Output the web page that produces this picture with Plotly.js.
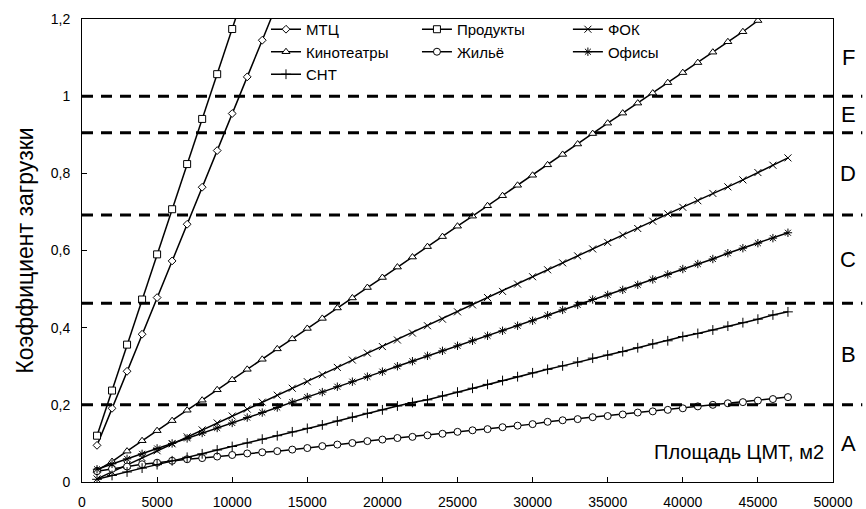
<!DOCTYPE html>
<html>
<head>
<meta charset="utf-8">
<script src="https://cdn.plot.ly/plotly-3.0.1.min.js"></script>
<style>html,body{margin:0;padding:0;background:#fff;}#chart{width:866px;height:509px;}</style>
</head>
<body>
<div id="chart"></div>
<script>
// ---- data (area in m2, load coefficient) ----
const xFull = [1000,2000,3000,4000,5000,6000,7000,8000,9000,10000,
  11000,12000,13000,14000,15000,16000,17000,18000,19000,20000,
  21000,22000,23000,24000,25000,26000,27000,28000,29000,30000,
  31000,32000,33000,34000,35000,36000,37000,38000,39000,40000,
  41000,42000,43000,44000,45000,46000,47000];
const xMTC = [1000,2000,3000,4000,5000,6000,7000,8000,9000,10000,11000,12000,13000];
const yMTC = [0.095,0.191,0.287,0.383,0.478,0.573,0.668,0.764,0.859,0.955,1.050,1.145,1.241];
const xProd = [1000,2000,3000,4000,5000,6000,7000,8000,9000,10000,11000];
const yProd = [0.120,0.237,0.356,0.473,0.590,0.707,0.824,0.941,1.057,1.174,1.292];
const xKino = [1000,2000,3000,4000,5000,6000,7000,8000,9000,10000,
  11000,12000,13000,14000,15000,16000,17000,18000,19000,20000,
  21000,22000,23000,24000,25000,26000,27000,28000,29000,30000,
  31000,32000,33000,34000,35000,36000,37000,38000,39000,40000,
  41000,42000,43000,44000,45000];
const yKino = [0.030,0.053,0.080,0.107,0.133,0.159,0.186,0.212,0.239,0.265,
  0.292,0.318,0.345,0.371,0.398,0.424,0.451,0.477,0.504,0.530,
  0.557,0.583,0.610,0.636,0.663,0.689,0.716,0.742,0.769,0.795,
  0.822,0.849,0.876,0.903,0.930,0.956,0.982,1.008,1.035,1.061,
  1.087,1.114,1.141,1.167,1.196];
const yFOK = [0.008,0.026,0.044,0.063,0.081,0.099,0.117,0.135,0.153,0.171,
  0.189,0.207,0.225,0.243,0.260,0.278,0.297,0.316,0.334,0.351,
  0.368,0.386,0.405,0.422,0.441,0.459,0.478,0.494,0.513,0.532,
  0.550,0.568,0.586,0.604,0.621,0.640,0.657,0.676,0.695,0.712,
  0.729,0.748,0.765,0.783,0.802,0.821,0.840];
const yOffice = [0.033,0.047,0.060,0.073,0.087,0.100,0.113,0.127,0.140,0.153,
  0.167,0.180,0.193,0.207,0.220,0.233,0.247,0.260,0.273,0.286,
  0.300,0.313,0.327,0.340,0.353,0.366,0.379,0.392,0.405,0.418,
  0.432,0.446,0.459,0.473,0.485,0.498,0.511,0.525,0.538,0.552,
  0.565,0.578,0.593,0.606,0.619,0.632,0.646];
const ySNT = [0.007,0.017,0.026,0.036,0.045,0.055,0.064,0.073,0.083,0.092,
  0.101,0.111,0.120,0.130,0.139,0.148,0.158,0.168,0.178,0.187,
  0.197,0.206,0.213,0.223,0.233,0.243,0.253,0.263,0.273,0.283,
  0.292,0.301,0.311,0.321,0.329,0.338,0.348,0.358,0.366,0.377,
  0.385,0.394,0.404,0.413,0.422,0.433,0.441];
const yHome = [0.028,0.034,0.040,0.046,0.050,0.055,0.059,0.062,0.066,0.070,
  0.074,0.077,0.080,0.084,0.088,0.093,0.097,0.101,0.106,0.110,
  0.114,0.117,0.121,0.125,0.130,0.134,0.137,0.142,0.146,0.150,
  0.156,0.160,0.163,0.168,0.171,0.175,0.180,0.183,0.187,0.191,
  0.196,0.200,0.204,0.207,0.211,0.215,0.220];
const zoneLevels = [0.2, 0.463, 0.692, 0.905, 1.0];
const zoneLetters = ['A','B','C','D','E','F'];
const yTitle = 'Коэффициент загрузки';
const xTitle = 'Площадь ЦМТ, м2';

// ---- styling ----
const FONT = 'Liberation Sans, Arial, sans-serif';
function tr(name, x, y, symbol, size, fill, legend) {
  return {
    type: 'scatter', mode: 'lines+markers', name: name, x: x, y: y,
    legend: legend,
    line: {color: '#000', width: 1.5},
    marker: {symbol: symbol, size: size, color: fill, line: {color: '#000', width: 1}},
    cliponaxis: true
  };
}
const data = [
  tr('МТЦ', xMTC, yMTC, 'diamond', 6, '#fff', 'legend'),
  tr('Продукты', xProd, yProd, 'square', 7, '#fff', 'legend2'),
  tr('ФОК', xFull, yFOK, 'x-thin', 7, '#000', 'legend3'),
  tr('Кинотеатры', xKino, yKino, 'triangle-up', 7, '#fff', 'legend'),
  tr('Жильё', xFull, yHome, 'circle', 7, '#fff', 'legend2'),
  tr('Офисы', xFull, yOffice, 'asterisk', 7, '#000', 'legend3'),
  tr('СНТ', xFull, ySNT, 'cross-thin', 7, '#000', 'legend')
];

const shapes = zoneLevels.map(v => ({
  type: 'line', xref: 'paper', yref: 'y', x0: 0, x1: 1.039, y0: v, y1: v,
  line: {color: '#000', width: 3, dash: '11px,8px'}, layer: 'above'
}));
const bounds = [0].concat(zoneLevels).concat([1.2]);
const annotations = zoneLetters.map((t, i) => ({
  text: t, xref: 'paper', yref: 'y', x: 1.02, y: (bounds[i] + bounds[i+1]) / 2,
  xanchor: 'center', yanchor: 'middle', showarrow: false,
  font: {family: FONT, size: 22, color: '#000'}
}));
annotations.push({
  text: xTitle, xref: 'paper', yref: 'y', x: 0.991, y: 0.078,
  xanchor: 'right', yanchor: 'middle', showarrow: false,
  font: {family: FONT, size: 20, color: '#000'}
});

const legBase = {orientation: 'v', bgcolor: 'rgba(0,0,0,0)', borderwidth: 0,
  font: {family: FONT, size: 15, color: '#000'}, yanchor: 'top', y: 1.013,
  xanchor: 'left', tracegroupgap: 0, itemwidth: 30};

const layout = {
  width: 866, height: 509,
  margin: {l: 82, r: 33, t: 19, b: 27},
  paper_bgcolor: '#fff', plot_bgcolor: '#fff',
  separators: ', ',
  font: {family: FONT, size: 14, color: '#000'},
  showlegend: true,
  legend: Object.assign({}, legBase, {x: 0.245}),
  legend2: Object.assign({}, legBase, {x: 0.446}),
  legend3: Object.assign({}, legBase, {x: 0.647}),
  xaxis: {
    range: [0, 50000], dtick: 5000, tick0: 0, tickformat: 'd',
    showgrid: false, zeroline: false, showline: true, linecolor: '#000', linewidth: 1,
    mirror: true, ticks: 'inside', ticklen: 5, tickcolor: '#000',
    ticklabelstandoff: 7,
    tickfont: {family: FONT, size: 14, color: '#000'}
  },
  yaxis: {
    range: [0, 1.2], dtick: 0.2, tick0: 0,
    showgrid: false, zeroline: false, showline: true, linecolor: '#000', linewidth: 1,
    mirror: true, ticks: 'inside', ticklen: 5, tickcolor: '#000',
    ticklabelstandoff: 8,
    tickfont: {family: FONT, size: 14, color: '#000'},
    title: {text: yTitle, font: {family: FONT, size: 23, color: '#000'}, standoff: 10}
  },
  shapes: shapes,
  annotations: annotations
};

Plotly.newPlot('chart', data, layout, {staticPlot: true, displayModeBar: false});
</script>
</body>
</html>
